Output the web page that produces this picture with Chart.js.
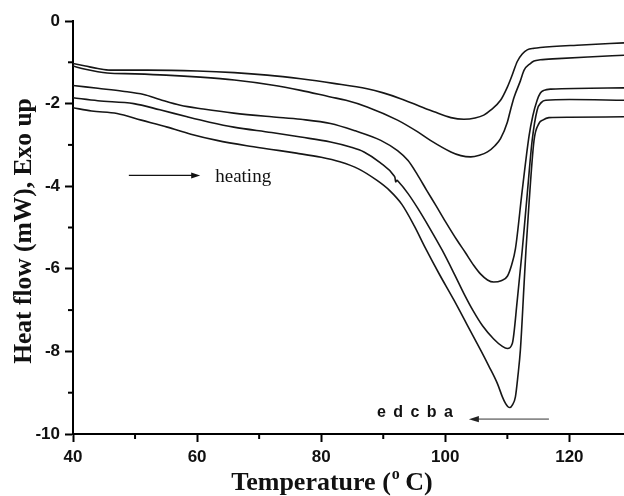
<!DOCTYPE html>
<html>
<head>
<meta charset="utf-8">
<script src="https://cdn.jsdelivr.net/npm/chart.js@4.4.1/dist/chart.umd.min.js"></script>
<style>
  html, body { margin: 0; padding: 0; background: #fff; }
  #wrap { width: 624px; height: 496px; position: relative; }
</style>
</head>
<body>
<div id="wrap"><canvas id="c" width="624" height="496"></canvas></div>
<script>
// ---- data ----
const xTicks = [40, 50, 60, 70, 80, 90, 100, 110, 120];
const yTicks = [-10, -9, -8, -7, -6, -5, -4, -3, -2, -1, 0];

const tempA = [40, 42, 44, 46, 52, 60, 66, 71.3, 76.7, 82, 87.4, 90, 92.8, 95.5, 98.2, 100.9, 103, 104.8, 106.2, 107.3, 108.9, 110, 110.8, 111.6, 112.4, 113.2, 114.3, 115.3, 122, 128.8];
const flowA = [-1.03, -1.09, -1.15, -1.19, -1.19, -1.21, -1.25, -1.31, -1.40, -1.51, -1.64, -1.74, -1.88, -2.04, -2.20, -2.34, -2.38, -2.35, -2.28, -2.16, -1.92, -1.60, -1.30, -0.98, -0.80, -0.70, -0.66, -0.64, -0.58, -0.53];

const tempB = [40, 42, 44, 45.5, 50, 55, 60.5, 66, 72, 76.7, 81.5, 84, 87.4, 92.3, 95.5, 97.6, 100.9, 102.5, 104.1, 105.5, 106.8, 108, 108.9, 110, 110.5, 111.1, 112.1, 112.7, 113.7, 114.3, 115.3, 118.1, 123, 128.8];
const flowB = [-1.09, -1.17, -1.23, -1.26, -1.28, -1.31, -1.36, -1.43, -1.55, -1.68, -1.84, -1.92, -2.08, -2.40, -2.68, -2.89, -3.17, -3.26, -3.29, -3.25, -3.17, -3.02, -2.85, -2.45, -2.16, -1.84, -1.45, -1.19, -1.03, -0.97, -0.94, -0.91, -0.87, -0.83];

const tempC = [40, 44, 48, 51.4, 54, 57.3, 61, 65.9, 72, 76.7, 81.5, 85.5, 89.6, 92.3, 94, 95.5, 97, 98.5, 100, 101.9, 103.2, 104.6, 105.7, 106.8, 107.8, 109, 110, 110.7, 111.3, 112.4, 113.5, 114.1, 114.8, 115.3, 115.9, 117, 128.8];
const flowC = [-1.56, -1.63, -1.70, -1.78, -1.90, -2.04, -2.13, -2.23, -2.32, -2.38, -2.48, -2.66, -2.89, -3.14, -3.38, -3.72, -4.10, -4.47, -4.85, -5.31, -5.60, -5.92, -6.13, -6.27, -6.32, -6.29, -6.18, -5.90, -5.52, -4.10, -2.78, -2.30, -1.92, -1.75, -1.68, -1.65, -1.62];

const tempD = [40, 44, 49.8, 54, 58.4, 62, 65.9, 72, 76.7, 81.5, 84.7, 86.9, 89.5, 91.7, 91.9, 92.0, 92.2, 92.5, 94, 95.5, 97.5, 99.5, 101.5, 103, 104.5, 106, 107.8, 109.2, 110, 110.8, 111.6, 112.4, 113.2, 114.0, 114.8, 115.5, 116.2, 120, 128.8];
const flowD = [-1.86, -1.93, -2.00, -2.15, -2.32, -2.45, -2.57, -2.70, -2.81, -2.93, -3.05, -3.17, -3.43, -3.74, -3.80, -3.90, -3.86, -3.90, -4.18, -4.52, -5.02, -5.55, -6.14, -6.60, -7.02, -7.38, -7.70, -7.88, -7.93, -7.81, -6.76, -5.55, -4.20, -2.89, -2.16, -1.97, -1.92, -1.90, -1.92];

const tempE = [40, 43, 47.1, 51, 55.2, 59, 63.2, 68, 72, 76, 80, 83, 86, 89, 91, 93, 95, 96.8, 99, 101.4, 103.5, 105.7, 107, 108.4, 109.2, 109.7, 110.1, 110.4, 110.8, 111.3, 111.7, 112.1, 112.7, 113, 113.5, 114.3, 115.1, 115.7, 116.7, 120, 128.8];
const flowE = [-2.10, -2.18, -2.24, -2.40, -2.57, -2.74, -2.89, -3.02, -3.11, -3.20, -3.30, -3.41, -3.58, -3.86, -4.10, -4.44, -4.96, -5.50, -6.12, -6.76, -7.35, -7.97, -8.35, -8.78, -9.10, -9.26, -9.34, -9.36, -9.30, -9.10, -8.60, -7.97, -6.36, -5.55, -4.40, -2.89, -2.48, -2.40, -2.34, -2.33, -2.32];

const curveLabels = ['a', 'b', 'c', 'd', 'e'];
const heatingArrow = { from: 49.0, to: 60.5, y: -3.74, text: 'heating' };
const orderArrow = { from: 116.7, to: 103.8, y: -9.64, textStart: 89.0, letters: ['e', 'd', 'c', 'b', 'a'] };

const serif = '"Liberation Serif", "Times New Roman", serif';
const sans = '"Liberation Sans", Arial, sans-serif';

function pts(t, f) { return t.map((v, i) => ({ x: v, y: f[i] })); }
const series = [[tempA, flowA], [tempB, flowB], [tempC, flowC], [tempD, flowD], [tempE, flowE]];

const annotations = {
  id: 'annotations',
  afterDraw(chart) {
    const { ctx, scales: { x, y }, chartArea } = chart;
    ctx.save();
    // minor ticks
    ctx.strokeStyle = '#000';
    ctx.lineWidth = 2;
    xTicks.filter(v => v % 20 !== 0).forEach(v => {
      const px = x.getPixelForValue(v);
      ctx.beginPath(); ctx.moveTo(px, chartArea.bottom); ctx.lineTo(px, chartArea.bottom + 5); ctx.stroke();
    });
    yTicks.filter(v => v % 2 !== 0).forEach(v => {
      const py = y.getPixelForValue(v);
      ctx.beginPath(); ctx.moveTo(chartArea.left, py); ctx.lineTo(chartArea.left - 5, py); ctx.stroke();
    });

    // heating arrow
    let x0 = x.getPixelForValue(heatingArrow.from), x1 = x.getPixelForValue(heatingArrow.to), yy = y.getPixelForValue(heatingArrow.y);
    ctx.strokeStyle = '#111'; ctx.lineWidth = 1.2;
    ctx.beginPath(); ctx.moveTo(x0, yy); ctx.lineTo(x1 - 6, yy); ctx.stroke();
    ctx.fillStyle = '#111';
    ctx.beginPath(); ctx.moveTo(x1, yy); ctx.lineTo(x1 - 9, yy - 3); ctx.lineTo(x1 - 9, yy + 3); ctx.closePath(); ctx.fill();
    ctx.font = '19px ' + serif; ctx.textAlign = 'left'; ctx.textBaseline = 'alphabetic';
    ctx.fillText(heatingArrow.text, x1 + 15, yy + 7);

    // order arrow (grey)
    x0 = x.getPixelForValue(orderArrow.from); x1 = x.getPixelForValue(orderArrow.to); yy = y.getPixelForValue(orderArrow.y);
    ctx.strokeStyle = '#8a8a8a'; ctx.lineWidth = 1.6;
    ctx.beginPath(); ctx.moveTo(x0, yy); ctx.lineTo(x1 + 6, yy); ctx.stroke();
    ctx.fillStyle = '#222';
    ctx.beginPath(); ctx.moveTo(x1, yy); ctx.lineTo(x1 + 10, yy - 3.2); ctx.lineTo(x1 + 10, yy + 3.2); ctx.closePath(); ctx.fill();
    // letters e d c b a
    ctx.font = 'bold 16px ' + sans; ctx.fillStyle = '#111'; ctx.textAlign = 'center';
    const sx = x.getPixelForValue(orderArrow.textStart);
    orderArrow.letters.forEach((L, i) => ctx.fillText(L, sx + 4.5 + i * 16.7, yy - 2));

    // x axis title with superscript
    ctx.fillStyle = '#111';
    ctx.textAlign = 'left';
    const f1 = 'bold 26px ' + serif, f2 = 'bold 16px ' + serif;
    const p1 = 'Temperature (', p2 = 'o', p3 = ' C)';
    ctx.font = f1; const w1 = ctx.measureText(p1).width, w3 = ctx.measureText(p3).width;
    ctx.font = f2; const w2 = ctx.measureText(p2).width;
    const total = w1 + w2 + w3;
    const cx = 332, by = 490;
    let sxx = cx - total / 2;
    ctx.font = f1; ctx.fillText(p1, sxx, by);
    ctx.font = f2; ctx.fillText(p2, sxx + w1 + 1, by - 11);
    ctx.font = f1; ctx.fillText(p3, sxx + w1 + w2, by);

    // y axis title
    ctx.save();
    ctx.translate(31, 231);
    ctx.rotate(-Math.PI / 2);
    ctx.font = 'bold 25.5px ' + serif; ctx.textAlign = 'center';
    ctx.fillText('Heat flow (mW), Exo up', 0, 0);
    ctx.restore();
    ctx.restore();
  }
};

new Chart(document.getElementById('c'), {
  type: 'line',
  data: {
    datasets: series.map((s, i) => ({
      label: curveLabels[i],
      data: pts(s[0], s[1]),
      borderColor: '#161616',
      borderWidth: 1.6,
      pointRadius: 0,
      fill: false,
      cubicInterpolationMode: 'monotone'
    }))
  },
  options: {
    responsive: false,
    animation: false,
    events: [],
    layout: { padding: { top: 21, right: 0, left: 0, bottom: 0 } },
    plugins: { legend: { display: false }, tooltip: { enabled: false }, title: { display: false } },
    scales: {
      x: {
        type: 'linear', min: 40, max: 128.8,
        afterBuildTicks: s => { s.ticks = xTicks.map(v => ({ value: v })); },
        afterFit: s => { s.height = 62; },
        grid: {
          drawOnChartArea: false, drawTicks: true, tickLength: 8, tickWidth: 2,
          tickColor: c => (c.tick && c.tick.value % 20 === 0) ? '#000' : 'rgba(0,0,0,0)'
        },
        border: { display: true, color: '#000', width: 2 },
        ticks: {
          autoSkip: false, maxRotation: 0, padding: 5, color: '#111',
          font: { family: sans, size: 17, weight: 'bold' },
          callback: v => (v % 20 === 0 ? String(v) : '')
        }
      },
      y: {
        type: 'linear', min: -10, max: 0,
        afterBuildTicks: s => { s.ticks = yTicks.map(v => ({ value: v })); },
        afterFit: s => { s.width = 73; },
        grid: {
          drawOnChartArea: false, drawTicks: true, tickLength: 8, tickWidth: 2,
          tickColor: c => (c.tick && c.tick.value % 2 === 0) ? '#000' : 'rgba(0,0,0,0)'
        },
        border: { display: true, color: '#000', width: 2 },
        ticks: {
          autoSkip: false, padding: 5, color: '#111',
          font: { family: sans, size: 17, weight: 'bold' },
          callback: v => (v % 2 === 0 ? String(v) : '')
        }
      }
    }
  },
  plugins: [annotations]
});
</script>
</body>
</html>
